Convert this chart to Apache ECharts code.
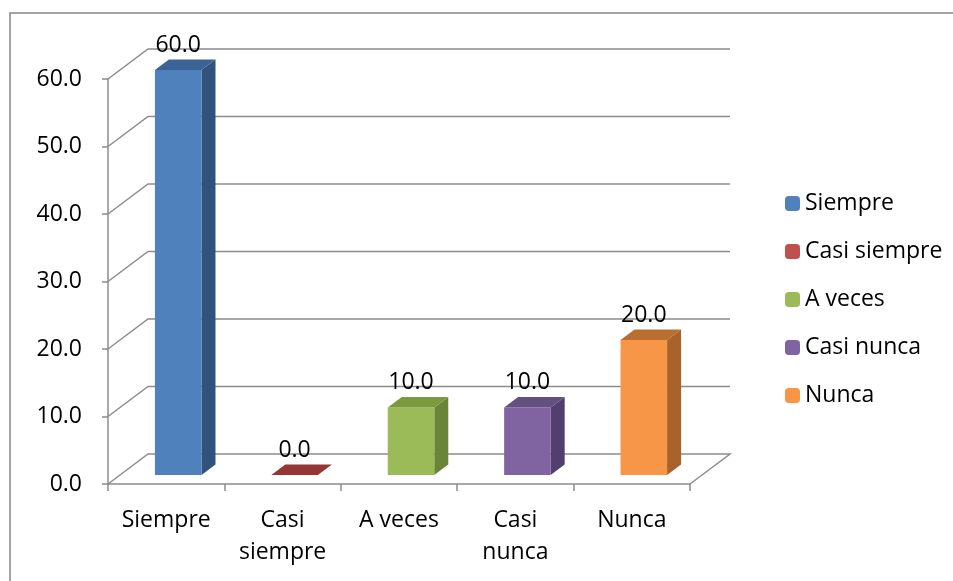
<!DOCTYPE html>
<html>
<head>
<meta charset="utf-8">
<title>Grafico</title>
<script src="https://cdn.jsdelivr.net/npm/echarts@6/dist/echarts.min.js"></script>
<style>
  html, body { margin: 0; padding: 0; background: #fff; }
  #main { width: 953px; height: 581px; }
</style>
</head>
<body>
<div id="main"></div>
<script type="text/javascript">
// datos
var categories = ['Siempre', 'Casi siempre', 'A veces', 'Casi nunca', 'Nunca'];
var values = [60.0, 0.0, 10.0, 10.0, 20.0];
var yTicks = [0, 10, 20, 30, 40, 50, 60];

// colores (frente, lado, tapa)
var frontColors = ['#4F81BD', '#C0504D', '#9BBB59', '#8064A2', '#F79646'];
var sideColors = ['#30527C', '#7E2D2B', '#6A8537', '#533F6F', '#A9622B'];
var topColors = ['#3B6396', '#943634', '#7A9A3E', '#634F80', '#BA6E30'];

// profundidad del efecto 3D
var DX = 40, DY = -30;
var D0 = 0.3, D1 = 0.65;
var gridColor = '#8c8c8c';
var font = 'Open Sans';
var fs = 23;

function renderWall(params, api) {
    var v = api.value(1);
    var cs = params.coordSys;
    var y = api.coord([0, v])[1];
    var x0 = cs.x, x1 = cs.x + cs.width;
    var pts = [[x0, y], [x0 + DX, y + DY], [x1 + DX, y + DY]];
    if (v === 0) pts.push([x1, y]);
    return {
        type: 'polyline',
        shape: { points: pts },
        style: { stroke: gridColor, lineWidth: 1.5, fill: null }
    };
}

function makeBarRenderer(i) {
    return function (params, api) {
        var idx = api.value(0), v = api.value(1);
        var top = api.coord([idx, v]);
        var base = api.coord([idx, 0]);
        var band = api.size([1, 0])[0];
        var w = band * 0.4;
        var xl = top[0] - w / 2 + D0 * DX;
        var xr = xl + w;
        var yt = top[1] + D0 * DY;
        var yb = base[1] + D0 * DY;
        var ddx = (D1 - D0) * DX, ddy = (D1 - D0) * DY;
        var children = [];
        if (yb - yt > 0.5) {
            children.push({
                type: 'polygon',
                shape: { points: [[xr, yb], [xr, yt], [xr + ddx, yt + ddy], [xr + ddx, yb + ddy]] },
                style: { fill: sideColors[i] }
            });
            children.push({
                type: 'rect',
                shape: { x: xl, y: yt, width: w, height: yb - yt },
                style: { fill: frontColors[i] }
            });
        }
        children.push({
            type: 'polygon',
            shape: { points: [[xl, yt], [xr, yt], [xr + ddx, yt + ddy], [xl + ddx, yt + ddy]] },
            style: { fill: topColors[i] }
        });
        children.push({
            type: 'text',
            style: {
                text: v.toFixed(1),
                x: (xl + xr) / 2,
                y: yt - 25,
                align: 'center',
                verticalAlign: 'middle',
                fill: '#000',
                font: fs + 'px "' + font + '"'
            }
        });
        return { type: 'group', children: children };
    };
}

var myChart = echarts.init(document.getElementById('main'));

var series = [{
    type: 'custom',
    name: 'walls',
    renderItem: renderWall,
    data: yTicks.map(function (t) { return [0, t]; }),
    encode: { x: 0, y: 1 },
    clip: false,
    silent: true,
    z: 1
}];
categories.forEach(function (c, i) {
    series.push({
        type: 'custom',
        name: c,
        renderItem: makeBarRenderer(i),
        itemStyle: { color: frontColors[i] },
        data: [[i, values[i]]],
        encode: { x: 0, y: 1 },
        clip: false,
        z: 3
    });
});

var option = {
    backgroundColor: '#fff',
    animation: false,
    textStyle: { fontFamily: font },
    graphic: [{
        type: 'rect',
        shape: { x: 10, y: 13, width: 1000, height: 700 },
        style: { fill: null, stroke: '#868686', lineWidth: 1.5 },
        z: 0
    }],
    grid: { left: 108, right: 263, top: 79, bottom: 97 },
    legend: {
        orient: 'vertical',
        left: 780,
        top: 187,
        itemWidth: 15,
        itemHeight: 15,
        itemGap: 25,
        data: categories,
        textStyle: { fontSize: fs, lineHeight: 23, color: '#000', fontFamily: font }
    },
    xAxis: {
        type: 'category',
        data: categories,
        boundaryGap: true,
        axisLine: { show: true, lineStyle: { color: gridColor, width: 1.5 } },
        axisTick: { show: true, length: 7, interval: 0, lineStyle: { color: gridColor, width: 1.5 } },
        axisLabel: {
            interval: 0,
            margin: 20,
            fontSize: fs,
            lineHeight: 32,
            color: '#000',
            fontFamily: font,
            formatter: function (v) { return v.replace('Casi ', 'Casi\n'); }
        },
        splitLine: { show: false }
    },
    yAxis: {
        type: 'value',
        min: 0,
        max: 60,
        interval: 10,
        axisLine: { show: true, lineStyle: { color: gridColor, width: 1.5 } },
        axisTick: { show: true, length: 6, lineStyle: { color: gridColor, width: 1.5 } },
        axisLabel: {
            margin: 26,
            fontSize: fs,
            color: '#000',
            fontFamily: font,
            formatter: function (v) { return v.toFixed(1); }
        },
        splitLine: { show: false }
    },
    series: series
};

myChart.setOption(option);
</script>
</body>
</html>
